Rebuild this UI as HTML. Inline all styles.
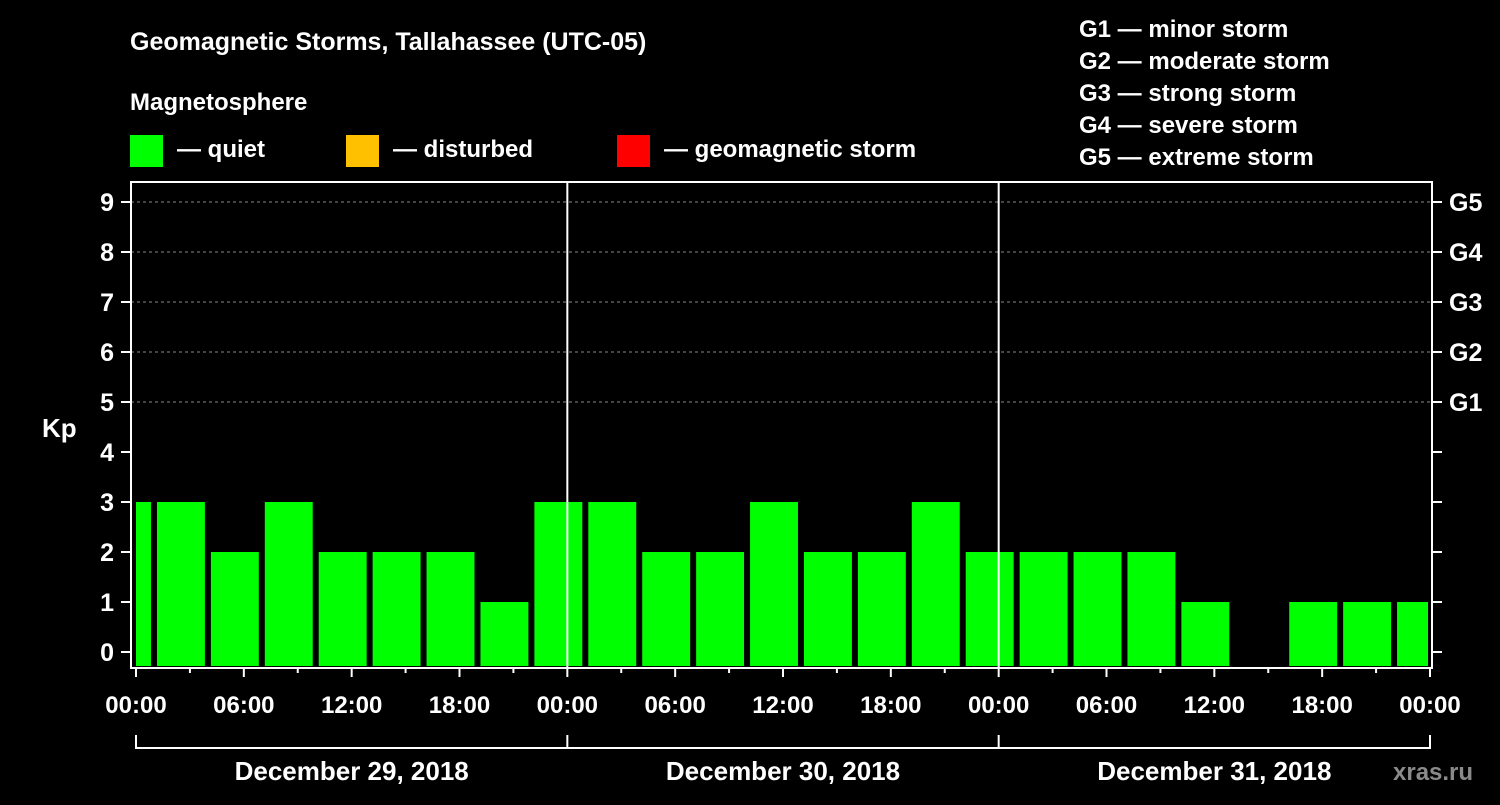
<!DOCTYPE html>
<html><head><meta charset="utf-8"><style>
body{margin:0;background:#000;width:1500px;height:800px;overflow:hidden}
svg text{font-family:"Liberation Sans",sans-serif;font-weight:bold;fill:#fff}
</style></head><body>
<svg id="c" width="1500" height="800">
<text x="130" y="50" font-size="25">Geomagnetic Storms, Tallahassee (UTC-05)</text>
<text x="130" y="110" font-size="24">Magnetosphere</text>
<rect x="130" y="135" width="33" height="32" fill="#00ff00"/>
<text x="177" y="157" font-size="24">— quiet</text>
<rect x="346" y="135" width="33" height="32" fill="#ffc000"/>
<text x="393" y="157" font-size="24">— disturbed</text>
<rect x="617" y="135" width="33" height="32" fill="#ff0000"/>
<text x="664" y="157" font-size="24">— geomagnetic storm</text>
<g font-size="24">
<text x="1079" y="37">G1 — minor storm</text>
<text x="1079" y="69">G2 — moderate storm</text>
<text x="1079" y="101">G3 — strong storm</text>
<text x="1079" y="133">G4 — severe storm</text>
<text x="1079" y="165">G5 — extreme storm</text>
</g>
<text x="42" y="437" font-size="26">Kp</text>
<text x="1393" y="780" font-size="24" fill="#888" style="fill:#8a8a8a">xras.ru</text>
<g id="g"></g>
</svg>
<script>
const values=[3,3,2,3,2,2,2,1,3,3,2,2,3,2,2,3,2,2,2,2,1,0,1,1,1];
const startHour=-2;
const binHours=3;
const dayLabels=["December 29, 2018","December 30, 2018","December 31, 2018"];
const hourLabels=["00:00","06:00","12:00","18:00"];
const gLabels=["G1","G2","G3","G4","G5"];
const NS="http://www.w3.org/2000/svg";
const g=document.getElementById('g');
const X0=136,X1=1430,L=131,R=1432,T=182,B=668;
const x=h=>X0+h*(X1-X0)/72;
const y=k=>652-k*50;
function mk(t,a,p){const e=document.createElementNS(NS,t);for(const k in a)e.setAttribute(k,a[k]);(p||g).appendChild(e);return e;}
// grid
for(let k=5;k<=9;k++){const e=mk('line',{x1:L,x2:R,y1:y(k),y2:y(k),stroke:'#888','stroke-dasharray':'3,3','stroke-width':1});

}
// bars
values.forEach((v,i)=>{if(v<=0)return;let h0=startHour+i*binHours,h1=h0+binHours;
let xa=x(h0)+3,xb=x(h1)-3;xa=Math.max(xa,X0);xb=Math.min(xb,X1-2);
const e=mk('rect',{x:xa,y:y(v),width:xb-xa,height:B-2-y(v),fill:'#00ff00'});

});
// day separators
for(let d=1;d<3;d++){const e=mk('line',{x1:x(d*24),x2:x(d*24),y1:T,y2:B,stroke:'#fff','stroke-width':2});

}
// frame
const f=mk('rect',{x:L,y:T,width:R-L,height:B-T,fill:'none',stroke:'#fff','stroke-width':2});


// y ticks
for(let k=0;k<=9;k++){mk('line',{x1:121,x2:L,y1:y(k),y2:y(k),stroke:'#fff','stroke-width':2});
mk('line',{x1:R,x2:1442,y1:y(k),y2:y(k),stroke:'#fff','stroke-width':2});
const t=mk('text',{x:114,y:y(k)+9,'font-size':25,'text-anchor':'end'});t.textContent=k;

}
gLabels.forEach((s,i)=>{const t=mk('text',{x:1449,y:y(5+i)+9,'font-size':25});t.textContent=s;

});
// x ticks
for(let h=0;h<=72;h+=3){const maj=h%6==0;mk('line',{x1:x(h),x2:x(h),y1:B,y2:maj?677:673,stroke:'#fff','stroke-width':2});
if(maj){const t=mk('text',{x:x(h),y:713,'font-size':24,'text-anchor':'middle'});t.textContent=h==72?hourLabels[0]:hourLabels[(h%24)/6];

}}
// day brackets
mk('line',{x1:x(0),x2:x(72),y1:748,y2:748,stroke:'#fff','stroke-width':2});
for(let d=0;d<=3;d++)mk('line',{x1:x(d*24),x2:x(d*24),y1:735,y2:749,stroke:'#fff','stroke-width':2});
dayLabels.forEach((s,d)=>{const t=mk('text',{x:x(d*24+12),y:780,'font-size':26,'text-anchor':'middle'});t.textContent=s;

});
</script>
</body></html>
